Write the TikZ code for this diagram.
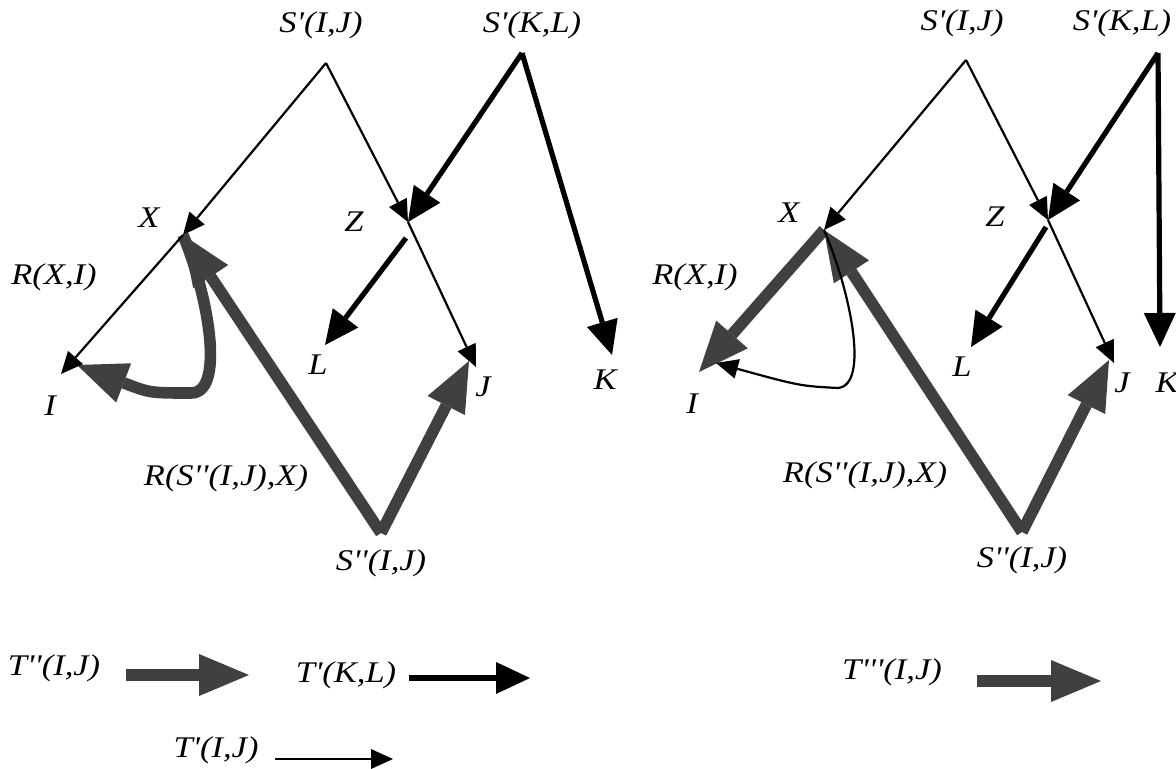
\documentclass[tikz,border=0pt]{standalone}
\usepackage{fontspec}
\setmainfont{Liberation Serif}[Ligatures=TeXOff,FakeStretch=1.15]
\usetikzlibrary{arrows.meta}
\definecolor{arrgray}{HTML}{404040}

\begin{document}
\begin{tikzpicture}[x=0.5pt,y=-0.5pt,
    lbl/.style={font=\fontsize{15}{18}\selectfont\itshape,inner sep=0pt},
    thinarr/.style={line width=1.1pt,-{Triangle[length=11pt,width=10pt,line width=0pt]}},
    thickarr/.style={line width=2.6pt,-{Triangle[length=17pt,width=16pt,line width=0pt]}},
    grayarr/.style={arrgray,line width=5.8pt,-{Triangle[length=25pt,width=21pt,line width=0pt]}}]

\useasboundingbox (0,0) rectangle (1176,769);

% left tree
\coordinate (sij) at (326,63);
\coordinate (skl) at (522,53);
\coordinate (X) at (183,235);
\coordinate (Z) at (408,222);
\coordinate (Zb) at (406,238);
\coordinate (I) at (61,374);
\coordinate (Ig) at (77,365);
\coordinate (L) at (325,345);
\coordinate (J) at (476,367);
\coordinate (Jg) at (469,361);
\coordinate (K) at (612,355);
\coordinate (spp) at (381,533);

\node[lbl] (lsij) at (321,25) {S'(I,J)};
\node[lbl] (lskl) at (532,25) {S'(K,L)};
\node[lbl] (lx) at (149,218) {X};
\node[lbl] (lz) at (354,222) {Z};
\node[lbl] (lrxi) at (54,277) {R(X,I)};
\node[lbl] (li) at (50,406) {I};
\node[lbl] (ll) at (318,365) {L};
\node[lbl] (lj) at (483,387) {J};
\node[lbl] (lk) at (605,380) {K};
\node[lbl] (lrsx) at (226,478) {R(S''(I,J),X)};
\node[lbl] (lspp) at (381,563) {S''(I,J)};

\draw[grayarr] (spp) -- (X);
\draw[grayarr] (spp) -- (Jg);
\draw[grayarr] (X) .. controls (210,300) and (225,395) .. (190,393)
  .. controls (150,393) .. (Ig);

\draw[thinarr] (sij) -- (X);
\draw[thinarr] (sij) -- (Z);
\draw[thinarr] (X) -- (I);
\draw[thinarr] (Z) -- (J);
\draw[thickarr] (skl) -- (Z);
\draw[thickarr] (skl) -- (K);
\draw[thickarr] (Zb) -- (L);

% right tree
\coordinate (sij2) at (966,60);
\coordinate (skl2) at (1158,53);
\coordinate (X2) at (824,230);
\coordinate (Z2) at (1048,220);
\coordinate (Z2b) at (1046,227);
\coordinate (I2) at (699,372);
\coordinate (I2c) at (716,363);
\coordinate (L2) at (971,347);
\coordinate (J2) at (1114,363);
\coordinate (J2g) at (1109,360);
\coordinate (K2) at (1160,347);
\coordinate (spp2) at (1022,532);

\node[lbl] (lsij2) at (962,23) {S'(I,J)};
\node[lbl] (lskl2) at (1122,23) {S'(K,L)};
\node[lbl] (lx2) at (789,213) {X};
\node[lbl] (lz2) at (995,217) {Z};
\node[lbl] (lrxi2) at (695,277) {R(X,I)};
\node[lbl] (li2) at (692,404) {I};
\node[lbl] (ll2) at (962,367) {L};
\node[lbl] (lj2) at (1122,383) {J};
\node[lbl] (lk2) at (1167,383) {K};
\node[lbl] (lrsx2) at (865,475) {R(S''(I,J),X)};
\node[lbl] (lspp2) at (1022,560) {S''(I,J)};

\draw[grayarr] (spp2) -- (X2);
\draw[grayarr] (spp2) -- (J2g);
\draw[grayarr] (X2) -- (I2);

\draw[thinarr] (sij2) -- (X2);
\draw[thinarr] (sij2) -- (Z2);
\draw[thinarr] (Z2) -- (J2);
\draw[thinarr] (X2) .. controls (850,290) and (870,385) .. (838,388)
  .. controls (800,386) .. (I2c);
\draw[thickarr] (skl2) -- (Z2);
\draw[thickarr] (skl2) -- (K2);
\draw[thickarr] (Z2b) -- (L2);

% legend
\node[lbl] (ltpp) at (54,668) {T''(I,J)};
\node[lbl] (ltkl) at (346,675) {T'(K,L)};
\node[lbl] (ltij) at (216,750) {T'(I,J)};
\node[lbl] (ltppp) at (892,672) {T'''(I,J)};

\coordinate (ga) at (126,675);
\coordinate (gb) at (249,675);
\coordinate (ka) at (409,678);
\coordinate (kb) at (530,678);
\coordinate (ta) at (275,759);
\coordinate (tb) at (393,759);
\coordinate (ga2) at (977,681);
\coordinate (gb2) at (1101,681);

\draw[grayarr] (ga) -- (gb);
\draw[thickarr] (ka) -- (kb);
\draw[thinarr] (ta) -- (tb);
\draw[grayarr] (ga2) -- (gb2);
\end{tikzpicture}
\end{document}
